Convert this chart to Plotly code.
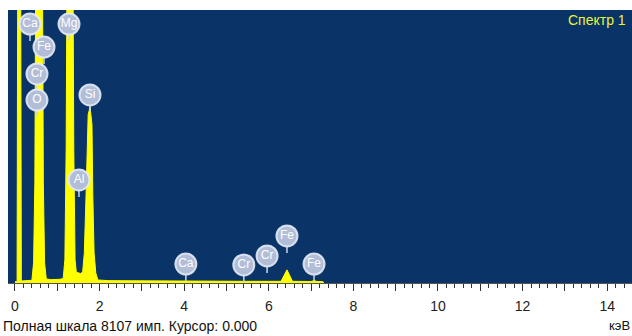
import plotly.graph_objects as go

# ---- data ----
FULL_SCALE = 8107  # counts ("Полная шкала 8107 имп.")

energy_kev = [
    0.00, 0.05, 0.065, 0.135, 0.15,
    0.25, 0.40, 0.44, 0.47, 0.49, 0.65, 0.67, 0.70, 0.74,
    0.85, 1.05, 1.14, 1.18, 1.21, 1.23, 1.37, 1.39, 1.42, 1.45,
    1.50, 1.55, 1.60, 1.64, 1.68, 1.71, 1.73, 1.775, 1.82, 1.84, 1.87, 1.91, 1.96,
    2.20, 3.00, 3.70, 4.00, 4.50, 5.40, 6.00, 6.29, 6.43, 6.56, 7.00, 7.07, 7.14, 7.28, 7.30,
]
counts = [
    40, 40, 9500, 9500, 60,
    60, 80, 600, 3000, 9500, 9500, 3000, 600, 120,
    100, 110, 130, 700, 4000, 9500, 9500, 4000, 700, 320,
    300, 280, 330, 900, 2600, 4700, 5000, 5226, 4700, 2600, 900, 300, 90,
    70, 60, 60, 65, 55, 50, 50, 50, 390, 50, 45, 70, 45, 40, 0,
]

label_text = ["Ca", "Fe", "Cr", "O", "Mg", "Si", "Al", "Ca", "Cr", "Cr", "Fe", "Fe"]
label_kev = [0.355, 0.686, 0.52, 0.52, 1.277, 1.773, 1.513, 4.04, 5.41, 5.96, 6.43, 7.07]
label_counts = [7691, 7008, 6207, 5434, 7691, 5583, 3059, 564, 535, 802, 1396, 564]

tick_values = list(range(0, 15))
tick_labels = [str(v) if v % 2 == 0 else "" for v in tick_values]

title_text = "Спектр 1"
footer_text = "Полная шкала 8107 имп. Курсор: 0.000"
unit_text = "кэВ"

# ---- figure ----
W, H = 632, 336
ML, MR, MT, MB = 8, 0, 10, 53
plot_w = W - ML - MR
plot_h = H - MT - MB
cnt_per_px = FULL_SCALE / plot_h

fig = go.Figure()

fig.add_trace(go.Scatter(
    x=energy_kev, y=counts, mode="lines",
    line=dict(color="#ffff00", width=1),
    fill="tozeroy", fillcolor="#ffff00",
    hoverinfo="skip", showlegend=False,
))

# stems under the element balls
stem_x, stem_y = [], []
for xk, yc in zip(label_kev, label_counts):
    stem_x += [xk, xk, None]
    stem_y += [yc - 9 * cnt_per_px, yc - 17 * cnt_per_px, None]
fig.add_trace(go.Scatter(
    x=stem_x, y=stem_y, mode="lines",
    line=dict(color="#cdd5e8", width=1.5),
    hoverinfo="skip", showlegend=False,
))

fig.add_trace(go.Scatter(
    x=label_kev, y=label_counts, mode="markers+text",
    text=label_text, textposition="middle center",
    textfont=dict(family="Liberation Sans, Arial", size=12, color="#ffffff"),
    marker=dict(size=21, color="#b2bdd8",
                line=dict(color="rgba(228,234,246,0.9)", width=2)),
    hoverinfo="skip", showlegend=False,
))

x0 = -0.165
x1 = x0 + plot_w / 42.3

fig.update_layout(
    width=W, height=H,
    margin=dict(l=ML, r=MR, t=MT, b=MB, pad=0),
    paper_bgcolor="#ffffff",
    plot_bgcolor="#0a3468",
    font=dict(family="Liberation Sans, Arial", color="#222222"),
    xaxis=dict(
        range=[x0, x1], showgrid=False, zeroline=False,
        tickmode="array", tickvals=tick_values, ticktext=tick_labels,
        ticks="outside", ticklen=7, tickwidth=1, tickcolor="#333333",
        minor=dict(dtick=0.2, ticks="outside", ticklen=4, tickwidth=1,
                   tickcolor="#333333", showgrid=False),
        showline=True, linecolor="#555555", linewidth=1,
        tickfont=dict(size=14, color="#222222"),
        ticklabelstandoff=3,
        fixedrange=True,
    ),
    yaxis=dict(range=[0, FULL_SCALE], visible=False, fixedrange=True),
    annotations=[
        dict(text=title_text, xref="paper", yref="paper", x=1, y=(H - MB - 20) / plot_h,
             xanchor="right", yanchor="middle", xshift=-4, showarrow=False,
             font=dict(size=14, color="#e8f53a")),
        dict(text=footer_text, xref="paper", yref="paper", x=-(ML - 1) / plot_w,
             y=-(326 - (H - MB)) / plot_h, xanchor="left", yanchor="middle",
             showarrow=False, font=dict(size=14, color="#111111")),
        dict(text=unit_text, xref="paper", yref="paper", x=(607 - ML) / plot_w,
             y=-(326 - (H - MB)) / plot_h, xanchor="left", yanchor="middle",
             showarrow=False, font=dict(size=13, color="#111111")),
    ],
)

fig.write_html(
    "out.html",
    config={"displayModeBar": False},
    post_script="document.body.style.margin='0';document.body.style.overflow='hidden';",
)
